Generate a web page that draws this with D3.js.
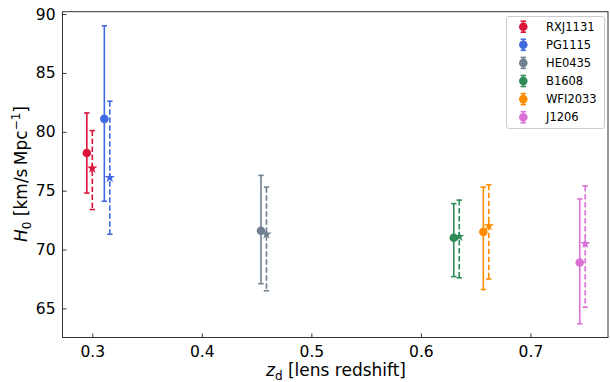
<!DOCTYPE html>
<html><head><meta charset="utf-8">
<script src="https://cdn.jsdelivr.net/npm/d3@7"></script>
<style>body{margin:0;background:#fff}svg{display:block}text{font-family:"DejaVu Sans",sans-serif;fill:#000}</style>
</head><body><svg id="c" width="610" height="382"></svg>
<script>
const names = ["RXJ1131","PG1115","HE0435","B1608","WFI2033","J1206"];
const colors = ["#DC143C","#4169E1","#708090","#2E8B57","#FF8C00","#DA70D6"];
const zd = [0.295, 0.311, 0.454, 0.630, 0.657, 0.745];
const h0 = [78.2, 81.1, 71.6, 71.0, 71.5, 68.9];
const h0Up = [3.4, 7.9, 4.7, 2.9, 3.8, 5.4];
const h0Lo = [3.4, 7.0, 4.5, 3.3, 4.9, 5.2];
const zdOffset = 0.005;
const h0Alt = [76.9, 76.1, 71.3, 71.1, 72.0, 70.5];
const h0AltUp = [3.2, 6.5, 4.0, 3.1, 3.5, 4.9];
const h0AltLo = [3.5, 4.8, 4.8, 3.5, 4.5, 5.4];
const xTicks = [0.3, 0.4, 0.5, 0.6, 0.7];
const yTicks = [65, 70, 75, 80, 85, 90];

const L = 62.5, R = 608, T = 11.7, B = 337.5;
const svg = d3.select("#c");
const x = d3.scaleLinear().domain([0.2728, 0.7708]).range([L, R]);
const y = d3.scaleLinear().domain([62.53, 90.2]).range([B, T]);

// axes (inward ticks)
const gx = svg.append("g").attr("transform", `translate(0,${B})`)
  .call(d3.axisBottom(x).tickValues(xTicks).tickFormat(d3.format(".1f")).tickSizeInner(-4).tickSizeOuter(0).tickPadding(8));
const gy = svg.append("g").attr("transform", `translate(${L},0)`)
  .call(d3.axisLeft(y).tickValues(yTicks).tickFormat(d3.format("d")).tickSizeInner(-4).tickSizeOuter(0).tickPadding(7));
[gx, gy].forEach(g => {
  g.select(".domain").remove();
  g.selectAll(".tick line").attr("stroke", "#333").attr("stroke-width", 1);
  g.selectAll(".tick text").attr("font-size", 15.5).style("font-family", "DejaVu Sans").attr("fill", "#000");
});
svg.append("rect").attr("x", L).attr("y", T).attr("width", R - L).attr("height", B - T)
  .attr("fill", "none").attr("stroke", "#333").attr("stroke-width", 1);

// data
const data = names.map((n, i) => ({n, c: colors[i], z: zd[i], v: h0[i], up: h0Up[i], lo: h0Lo[i],
  z2: zd[i] + zdOffset, v2: h0Alt[i], up2: h0AltUp[i], lo2: h0AltLo[i]}));
const cap = 2.7;
const g = svg.append("g");
data.forEach(d => {
  const xs = x(d.z);
  g.append("line").attr("x1", xs).attr("x2", xs).attr("y1", y(d.v + d.up)).attr("y2", y(d.v - d.lo))
    .attr("stroke", d.c).attr("stroke-width", 1.6);
  [d.v + d.up, d.v - d.lo].forEach(v => g.append("line").attr("x1", xs - cap).attr("x2", xs + cap)
    .attr("y1", y(v)).attr("y2", y(v)).attr("stroke", d.c).attr("stroke-width", 1.6));
  const xs2 = x(d.z2);
  g.append("line").attr("x1", xs2).attr("x2", xs2).attr("y1", y(d.v2 + d.up2)).attr("y2", y(d.v2 - d.lo2))
    .attr("stroke", d.c).attr("stroke-width", 1.6).attr("stroke-dasharray", "5.5,2.5");
  [d.v2 + d.up2, d.v2 - d.lo2].forEach(v => g.append("line").attr("x1", xs2 - cap).attr("x2", xs2 + cap)
    .attr("y1", y(v)).attr("y2", y(v)).attr("stroke", d.c).attr("stroke-width", 1.6));
  g.append("circle").attr("cx", xs).attr("cy", y(d.v)).attr("r", 4.3).attr("fill", d.c);
  g.append("path").attr("d", d3.symbol().type(d3.symbolStar).size(34)())
    .attr("transform", `translate(${xs2},${y(d.v2)})`).attr("fill", d.c);
});

// legend
const lg = svg.append("g");
lg.append("rect").attr("x", 506.5).attr("y", 16.5).attr("width", 98).attr("height", 112).attr("rx", 2.5)
  .attr("fill", "#fff").attr("fill-opacity", 0.8).attr("stroke", "#ccc").attr("stroke-width", 1);
data.forEach((d, i) => {
  const cy = 26.7 + i * 18.1, cx = 523.3;
  lg.append("line").attr("x1", cx).attr("x2", cx).attr("y1", cy - 5.5).attr("y2", cy + 5.5).attr("stroke", d.c).attr("stroke-width", 1.6);
  [cy - 5.5, cy + 5.5].forEach(yy => lg.append("line").attr("x1", cx - 2.7).attr("x2", cx + 2.7).attr("y1", yy).attr("y2", yy).attr("stroke", d.c).attr("stroke-width", 1.6));
  lg.append("circle").attr("cx", cx).attr("cy", cy).attr("r", 4.3).attr("fill", d.c);
  lg.append("text").attr("x", 546).attr("y", cy).attr("dy", "0.36em").attr("font-size", 11.5).text(d.n);
});

// axis labels
const xl = svg.append("text").attr("x", 336).attr("y", 376).attr("text-anchor", "middle").attr("font-size", 17);
xl.append("tspan").attr("font-style", "italic").text("z");
xl.append("tspan").attr("dy", 3.5).attr("font-size", 12).text("d");
xl.append("tspan").attr("dy", -3.5).text(" [lens redshift]");

const yl = svg.append("text").attr("transform", "translate(27,174) rotate(-90)").attr("text-anchor", "middle").attr("font-size", 17);
yl.append("tspan").attr("font-style", "italic").text("H");
yl.append("tspan").attr("dy", 4).attr("font-size", 12).text("0");
yl.append("tspan").attr("dy", -4).text(" [km/s\u2009Mpc");
yl.append("tspan").attr("dy", -7).attr("font-size", 12).text("\u22121");
yl.append("tspan").attr("dy", 7).text("]");
</script></body></html>
